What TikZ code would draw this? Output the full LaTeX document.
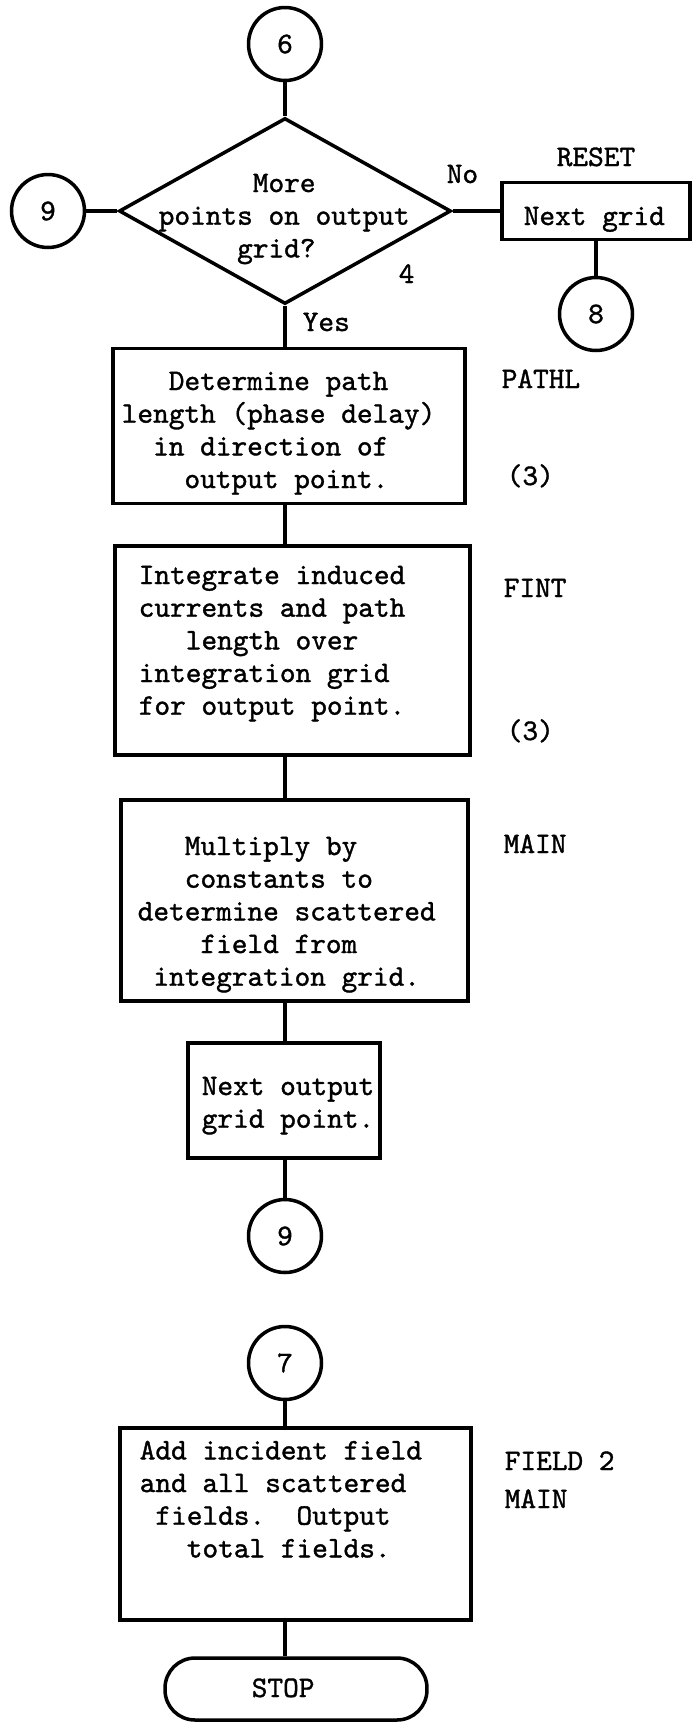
\documentclass[tikz,border=0pt]{standalone}
\usepackage{fontspec}
\newfontfamily\typer{lmmono10-regular.otf}[FakeBold=1.2]
\usepackage{tikz}
\usetikzlibrary{shapes.geometric}

\begin{document}
\begin{tikzpicture}[x=0.02cm,y=-0.02cm,line width=2pt,
  every node/.style={font=\typer\fontsize{17}{18.6}\selectfont},
  conn/.style={draw,circle,minimum size=1.46cm,inner sep=0pt},
  proc/.style={draw,rectangle,inner sep=0pt},
  decision/.style={draw,diamond,inner sep=0pt,minimum width=6.64cm,minimum height=3.72cm},
  txt/.style={align=left,anchor=north west,inner sep=0pt},
  lbl/.style={anchor=base west,inner sep=0pt}]
\useasboundingbox (0,0) rectangle (695,1722);
\node[conn] (c6) at (285,44) {6};
\node[decision] (more) at (285,211) {};
\node[txt] at (157,172) {~~~~~~More\\points on output\\~~~~~grid?};
\node[conn] (c9a) at (48,211) {9};
\node[proc,minimum width=3.76cm,minimum height=1.14cm] (nextgrid) at (596,211) {};
\node[lbl] at (522,225) {Next grid};
\node[lbl] at (555,166) {RESET};
\node[conn] (c8) at (596,314) {8};
\node[lbl] at (445,183) {No};
\node[lbl] at (397,283) {4};
\node[lbl] at (301,331) {Yes};
\node[proc,minimum width=7.04cm,minimum height=3.1cm] (pathl) at (289,426) {};
\node[txt] at (120,370) {~~~Determine path\\length (phase delay)\\~~in direction of\\~~~~output point.};
\node[lbl] at (500,388) {PATHL};
\node[lbl] at (505,485) {(3)};
\node[proc,minimum width=7.1cm,minimum height=4.18cm] (fint) at (292.5,650.5) {};
\node[txt] at (137,564) {Integrate induced\\currents and path\\~~~length over\\integration grid\\for output point.};
\node[lbl] at (502,597) {FINT};
\node[lbl] at (505,740) {(3)};
\node[proc,minimum width=6.94cm,minimum height=4.02cm] (main) at (294.5,900.5) {};
\node[txt] at (136,835) {~~~Multiply by\\~~~constants to\\determine scattered\\~~~~field from\\~integration grid.};
\node[lbl] at (502,853) {MAIN};
\node[proc,minimum width=3.84cm,minimum height=2.3cm] (nextpt) at (284,1100.5) {};
\node[txt] at (200,1075) {Next output\\grid point.};
\node[conn] (c9b) at (285,1236) {9};
\node[conn] (c7) at (285,1363) {7};
\node[proc,minimum width=7.02cm,minimum height=3.84cm] (field) at (295.5,1524) {};
\node[txt] at (138,1439) {Add incident field\\and all scattered\\~fields.~~Output\\~~~total fields.};
\node[lbl] at (503,1470) {FIELD 2};
\node[lbl] at (503,1508) {MAIN};
\node[proc,rounded corners=0.6cm,minimum width=5.24cm,minimum height=1.24cm] (stop) at (296,1689) {};
\node[lbl] at (250,1697) {STOP};
\draw (c6) -- (more);
\draw (c9a) -- (more);
\draw (more) -- (nextgrid);
\draw (nextgrid) -- (c8);
\draw (more) -- (more |- pathl.north);
\draw (pathl.south -| more) -- (fint.north -| more);
\draw (fint.south -| more) -- (main.north -| more);
\draw (main.south -| more) -- (nextpt.north -| more);
\draw (nextpt.south -| more) -- (c9b);
\draw (c7) -- (c7 |- field.north);
\draw (field.south -| c7) -- (stop.north -| c7);
\end{tikzpicture}
\end{document}
